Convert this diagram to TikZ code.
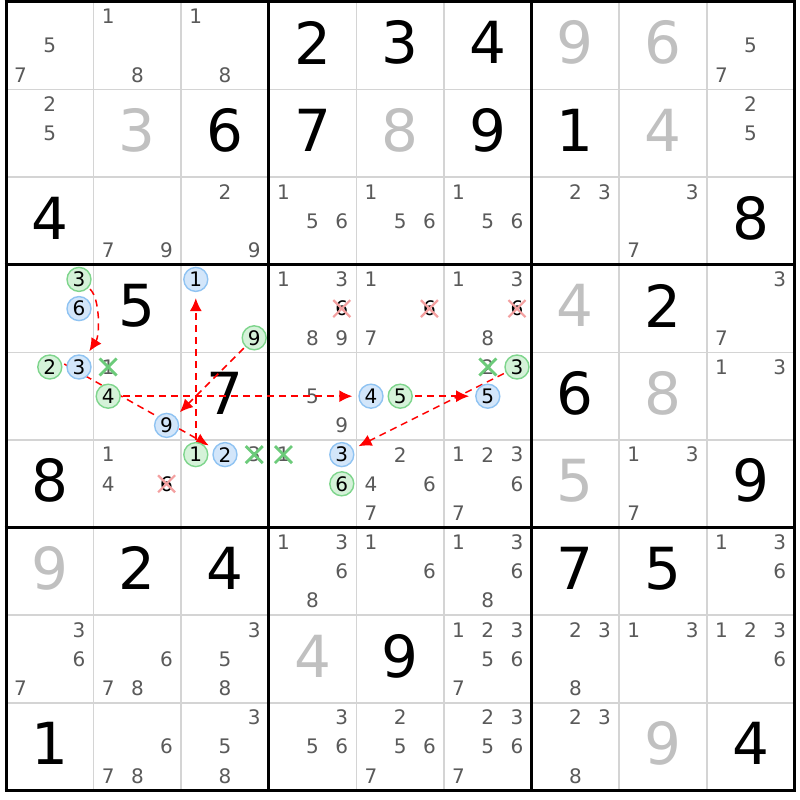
\documentclass[tikz,border=0pt]{standalone}
\usepackage{fontspec}
\setmainfont{DejaVu Sans}
\usetikzlibrary{arrows.meta}
\definecolor{candgray}{HTML}{5A5A5A}
\definecolor{solvedgray}{HTML}{C0C0C0}
\definecolor{gridgray}{HTML}{D4D4D4}
\definecolor{gfill}{HTML}{D5F2D9}
\definecolor{gdraw}{HTML}{7ED58C}
\definecolor{bfill}{HTML}{D3E6FA}
\definecolor{bdraw}{HTML}{8FC3F2}
\definecolor{xred}{HTML}{F4A0A0}
\definecolor{xgreen}{HTML}{6CCB7A}
\pgfdeclarelayer{front}
\pgfsetlayers{main,front}
\newcommand\PX[2]{6+(#1-1)*87.6+(mod(#2-1,3)+0.5)*29.2}
\newcommand\PY[2]{2+(#1-1)*87.6+(floor((#2-1)/3)+0.5)*29.2}
\newcommand\Given[3]{\node[givenstyle] (g#1#2) at ({6+(#2-0.5)*87.6},{2+(#1-0.5)*87.6-3}) {#3};}
\newcommand\Solved[3]{\node[solvedstyle] (g#1#2) at ({6+(#2-0.5)*87.6},{2+(#1-0.5)*87.6-3}) {#3};}
\newcommand\Cands[3]{\foreach \d in {#3}{\node[candstyle] (c#1#2\d) at ({\PX{#2}{\d}},{\PY{#1}{\d}}) {\d};}}
\newcommand\Circ[4]{\node[#1] (c#2#3#4) at ({\PX{#3}{#4}},{\PY{#2}{#4}}) {#4};}
\newcommand\RedX[3]{\node[candstyle,text=black] (c#1#2#3) at ({\PX{#2}{#3}},{\PY{#1}{#3}}) {#3};
  \begin{pgfonlayer}{front}
  \draw[redx] ([shift={(-8.5,-8.5)}]c#1#2#3.center) -- ([shift={(8.5,8.5)}]c#1#2#3.center);
  \draw[redx] ([shift={(-8.5,8.5)}]c#1#2#3.center) -- ([shift={(8.5,-8.5)}]c#1#2#3.center);
  \end{pgfonlayer}}
\newcommand\GreenX[3]{\node[candstyle] (c#1#2#3) at ({\PX{#2}{#3}},{\PY{#1}{#3}}) {#3};
  \begin{pgfonlayer}{front}
  \draw[greenx] ([shift={(-8.5,-8.5)}]c#1#2#3.center) -- ([shift={(8.5,8.5)}]c#1#2#3.center);
  \draw[greenx] ([shift={(-8.5,8.5)}]c#1#2#3.center) -- ([shift={(8.5,-8.5)}]c#1#2#3.center);
  \end{pgfonlayer}}
\tikzset{
  givenstyle/.style={inner sep=0pt,font=\fontsize{58}{60}\selectfont,text=black},
  solvedstyle/.style={inner sep=0pt,font=\fontsize{58}{60}\selectfont,text=solvedgray},
  candstyle/.style={inner sep=0pt,font=\fontsize{20}{22}\selectfont,text=candgray},
  gcirc/.style={circle,draw=gdraw,fill=gfill,line width=1.4pt,inner sep=0pt,minimum size=24pt,font=\fontsize{20}{22}\selectfont,text=black},
  bcirc/.style={circle,draw=bdraw,fill=bfill,line width=1.4pt,inner sep=0pt,minimum size=24pt,font=\fontsize{20}{22}\selectfont,text=black},
  redx/.style={draw=xred,line width=2.2pt},
  greenx/.style={draw=xgreen,line width=2.8pt},
  thingrid/.style={draw=gridgray,line width=1.6pt},
  thickgrid/.style={draw=black,line width=3pt},
  chainarrow/.style={draw=red,line width=1.5pt,dash pattern=on 7pt off 5pt,shorten >=6pt,shorten <=2pt,-{Latex[length=13pt,width=12pt]}}
}
\begin{document}
\begin{tikzpicture}[x=1pt,y=-1pt]
\useasboundingbox (0,0) rectangle (800,800);
\fill[white] (0,0) rectangle (800,800);
% grid
\foreach \i in {1,2,4,5,7,8}{
  \draw[thingrid] ({6+\i*87.6},2) -- ({6+\i*87.6},790.4);
  \draw[thingrid] (6,{2+\i*87.6}) -- (794.4,{2+\i*87.6});
}
\foreach \i in {0,3,6,9}{
  \draw[thickgrid] ({6+\i*87.6},0.5) -- ({6+\i*87.6},791.9);
  \draw[thickgrid] (4.5,{2+\i*87.6}) -- (795.9,{2+\i*87.6});
}
% givens
\Given{1}{4}{2}\Given{1}{5}{3}\Given{1}{6}{4}
\Given{2}{3}{6}\Given{2}{4}{7}\Given{2}{6}{9}\Given{2}{7}{1}
\Given{3}{1}{4}\Given{3}{9}{8}
\Given{4}{2}{5}\Given{4}{8}{2}
\Given{5}{3}{7}\Given{5}{7}{6}
\Given{6}{1}{8}\Given{6}{9}{9}
\Given{7}{2}{2}\Given{7}{3}{4}\Given{7}{7}{7}\Given{7}{8}{5}
\Given{8}{5}{9}
\Given{9}{1}{1}\Given{9}{9}{4}
% solved
\Solved{1}{7}{9}\Solved{1}{8}{6}
\Solved{2}{2}{3}\Solved{2}{5}{8}\Solved{2}{8}{4}
\Solved{4}{7}{4}\Solved{5}{8}{8}\Solved{6}{7}{5}
\Solved{7}{1}{9}\Solved{8}{4}{4}\Solved{9}{8}{9}
% candidates
\Cands{1}{1}{5,7}\Cands{1}{2}{1,8}\Cands{1}{3}{1,8}\Cands{1}{9}{5,7}
\Cands{2}{1}{2,5}\Cands{2}{9}{2,5}
\Cands{3}{2}{7,9}\Cands{3}{3}{2,9}\Cands{3}{4}{1,5,6}\Cands{3}{5}{1,5,6}\Cands{3}{6}{1,5,6}\Cands{3}{7}{2,3}\Cands{3}{8}{3,7}
\Cands{4}{4}{1,3,8,9}\Cands{4}{5}{1,7}\Cands{4}{6}{1,3,8}\Cands{4}{9}{3,7}
\Cands{5}{4}{5,9}\Cands{5}{9}{1,3}
\Cands{6}{2}{1,4}\Cands{6}{5}{2,4,6,7}\Cands{6}{6}{1,2,3,6,7}\Cands{6}{8}{1,3,7}
\Cands{7}{4}{1,3,6,8}\Cands{7}{5}{1,6}\Cands{7}{6}{1,3,6,8}\Cands{7}{9}{1,3,6}
\Cands{8}{1}{3,6,7}\Cands{8}{2}{6,7,8}\Cands{8}{3}{3,5,8}\Cands{8}{6}{1,2,3,5,6,7}\Cands{8}{7}{2,3,8}\Cands{8}{8}{1,3}\Cands{8}{9}{1,2,3,6}
\Cands{9}{2}{6,7,8}\Cands{9}{3}{3,5,8}\Cands{9}{4}{3,5,6}\Cands{9}{5}{2,5,6,7}\Cands{9}{6}{2,3,5,6,7}\Cands{9}{7}{2,3,8}
% eliminated
\RedX{4}{4}{6}\RedX{4}{5}{6}\RedX{4}{6}{6}\RedX{6}{2}{6}
\GreenX{5}{2}{1}\GreenX{5}{6}{2}\GreenX{6}{3}{3}\GreenX{6}{4}{1}
% circled candidates
\begin{pgfonlayer}{front}
\Circ{gcirc}{4}{1}{3}\Circ{bcirc}{4}{1}{6}
\Circ{bcirc}{4}{3}{1}\Circ{gcirc}{4}{3}{9}
\Circ{gcirc}{5}{1}{2}\Circ{bcirc}{5}{1}{3}
\Circ{gcirc}{5}{2}{4}\Circ{bcirc}{5}{2}{9}
\Circ{bcirc}{5}{5}{4}\Circ{gcirc}{5}{5}{5}
\Circ{gcirc}{5}{6}{3}\Circ{bcirc}{5}{6}{5}
\Circ{gcirc}{6}{3}{1}\Circ{bcirc}{6}{3}{2}
\Circ{bcirc}{6}{4}{3}\Circ{gcirc}{6}{4}{6}
\end{pgfonlayer}
% chain links
\draw[chainarrow] (c413) .. controls (100,298) and (100,335) .. (c513);
\draw[chainarrow] ([yshift=4pt]c512.east) -- (c632);
\draw[chainarrow] (c524) -- (c554);
\draw[chainarrow] (c555) -- (c565);
\draw[chainarrow] (c563) -- (c643);
\draw[chainarrow] (c439) -- (c529);
\draw[chainarrow] (c631) -- (c431);
\end{tikzpicture}
\end{document}
